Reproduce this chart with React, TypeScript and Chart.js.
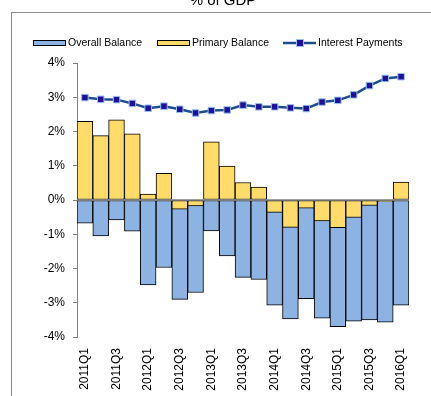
import React, { useEffect, useRef } from "react";
import { Chart, registerables } from "chart.js";

Chart.register(...registerables);

const categories = [
  "2011Q1", "2011Q2", "2011Q3", "2011Q4",
  "2012Q1", "2012Q2", "2012Q3", "2012Q4",
  "2013Q1", "2013Q2", "2013Q3", "2013Q4",
  "2014Q1", "2014Q2", "2014Q3", "2014Q4",
  "2015Q1", "2015Q2", "2015Q3", "2015Q4",
  "2016Q1",
];

const overallBalance = [
  -0.68, -1.05, -0.58, -0.91,
  -2.48, -1.97, -2.9, -2.7,
  -0.9, -1.63, -2.26, -2.32,
  -3.07, -3.47, -2.88, -3.45,
  -3.7, -3.54, -3.5, -3.57,
  -3.07,
];

const primaryBalance = [
  2.3, 1.88, 2.34, 1.93,
  0.17, 0.78, -0.27, -0.17,
  1.7, 0.99, 0.51, 0.38,
  -0.36, -0.8, -0.24, -0.61,
  -0.81, -0.51, -0.16, -0.05,
  0.52,
];

const interestPayments = [
  2.99, 2.94, 2.93, 2.82,
  2.68, 2.74, 2.65, 2.54,
  2.61, 2.63, 2.77, 2.72,
  2.72, 2.69, 2.67, 2.86,
  2.91, 3.07, 3.34, 3.55,
  3.6,
];

const titleText = "% of GDP";
const seriesNames = ["Overall Balance", "Primary Balance", "Interest Payments"];

const BLUE = "#8DB3E2";
const YELLOW = "#FFDB69";
const LINE = "#1F4E8C";
const MARKER = "#1F0F99";
const MARKER_BORDER = "#99C2F0";
const FONT = "'Liberation Sans', Arial, sans-serif";

const decorPlugin = {
  id: "decor",
  afterDatasetsDraw(chart: any) {
    const { ctx, chartArea, scales } = chart;
    const y0 = scales.y.getPixelForValue(0);
    ctx.save();
    ctx.strokeStyle = "#808080";
    ctx.lineWidth = 1.5;
    ctx.beginPath();
    ctx.moveTo(chartArea.left, y0);
    ctx.lineTo(chartArea.right, y0);
    ctx.stroke();
    ctx.restore();
  },
  afterDraw(chart: any) {
    const { ctx } = chart;
    ctx.save();
    // outer frame
    ctx.strokeStyle = "#8C8C8C";
    ctx.lineWidth = 1;
    ctx.strokeRect(11.5, 12.5, 440, 400);
    // title (partly above the visible page)
    ctx.fillStyle = "#000";
    ctx.font = `15px ${FONT}`;
    ctx.textAlign = "center";
    ctx.textBaseline = "alphabetic";
    ctx.fillText(titleText, 223, 5);
    // legend
    const ly = 43;
    ctx.font = `10.5px ${FONT}`;
    ctx.textAlign = "left";
    ctx.textBaseline = "middle";
    const starts = [33, 157, 283];
    seriesNames.forEach((name, i) => {
      const x = starts[i];
      if (i < 2) {
        ctx.fillStyle = i === 0 ? BLUE : YELLOW;
        ctx.fillRect(x, ly - 2.5, 33, 5);
        ctx.strokeStyle = "#000";
        ctx.lineWidth = 1;
        ctx.strokeRect(x + 0.5, ly - 2.5, 32, 5);
      } else {
        ctx.strokeStyle = LINE;
        ctx.lineWidth = 2.5;
        ctx.beginPath();
        ctx.moveTo(x, ly);
        ctx.lineTo(x + 33, ly);
        ctx.stroke();
        ctx.fillStyle = MARKER;
        ctx.fillRect(x + 14, ly - 3, 6, 6);
        ctx.strokeStyle = MARKER_BORDER;
        ctx.lineWidth = 1;
        ctx.strokeRect(x + 13.5, ly - 3.5, 7, 7);
      }
      ctx.fillStyle = "#000";
      ctx.fillText(name, x + 35, ly + 0.5);
    });
    ctx.restore();
  },
};

export default function App() {
  const ref = useRef<HTMLCanvasElement | null>(null);

  useEffect(() => {
    if (!ref.current) return;
    const chart = new Chart(ref.current, {
      type: "bar",
      data: {
        labels: categories,
        datasets: [
          {
            type: "bar",
            label: seriesNames[0],
            data: overallBalance,
            backgroundColor: BLUE,
            borderColor: "#000",
            borderWidth: 1,
            borderSkipped: false,
            grouped: false,
            categoryPercentage: 1,
            barPercentage: 1,
            order: 2,
          } as any,
          {
            type: "bar",
            label: seriesNames[1],
            data: primaryBalance,
            backgroundColor: YELLOW,
            borderColor: "#000",
            borderWidth: 1,
            borderSkipped: false,
            grouped: false,
            categoryPercentage: 1,
            barPercentage: 1,
            order: 1,
          } as any,
          {
            type: "line",
            label: seriesNames[2],
            data: interestPayments,
            borderColor: LINE,
            borderWidth: 2.5,
            pointStyle: "rect",
            pointRadius: 4.6,
            pointBackgroundColor: MARKER,
            pointBorderColor: MARKER_BORDER,
            pointBorderWidth: 1,
            tension: 0,
            order: 0,
          } as any,
        ],
      },
      options: {
        animation: false,
        responsive: false,
        devicePixelRatio: 1,
        layout: { padding: { top: 63, right: 22, bottom: 0, left: 0 } },
        plugins: {
          legend: { display: false },
          title: { display: false },
          tooltip: { enabled: false },
        },
        scales: {
          x: {
            offset: true,
            grid: { display: false, drawTicks: false },
            border: { display: false },
            ticks: {
              autoSkip: false,
              maxRotation: 90,
              minRotation: 90,
              padding: 11,
              color: "#000",
              font: { family: FONT, size: 12 },
              callback: (_v: any, i: number) => (i % 2 === 0 ? categories[i] : ""),
            },
            afterFit: (s: any) => {
              s.height = 59;
            },
          },
          y: {
            min: -4,
            max: 4,
            grid: {
              drawOnChartArea: false,
              drawTicks: true,
              tickLength: 4,
              color: "#808080",
            },
            border: { display: true, color: "#808080", width: 1 },
            ticks: {
              stepSize: 1,
              padding: 8,
              color: "#000",
              font: { family: FONT, size: 12 },
              callback: (v: any) => `${v}%`,
            },
            afterFit: (s: any) => {
              s.width = 77;
            },
          },
        },
      },
      plugins: [decorPlugin],
    });
    return () => chart.destroy();
  }, []);

  return (
    <div
      style={{
        position: "fixed",
        left: 0,
        top: 0,
        width: 431,
        height: 396,
        overflow: "hidden",
        background: "#fff",
      }}
    >
      <canvas ref={ref} width={431} height={396} style={{ display: "block", width: 431, height: 396 }} />
    </div>
  );
}
